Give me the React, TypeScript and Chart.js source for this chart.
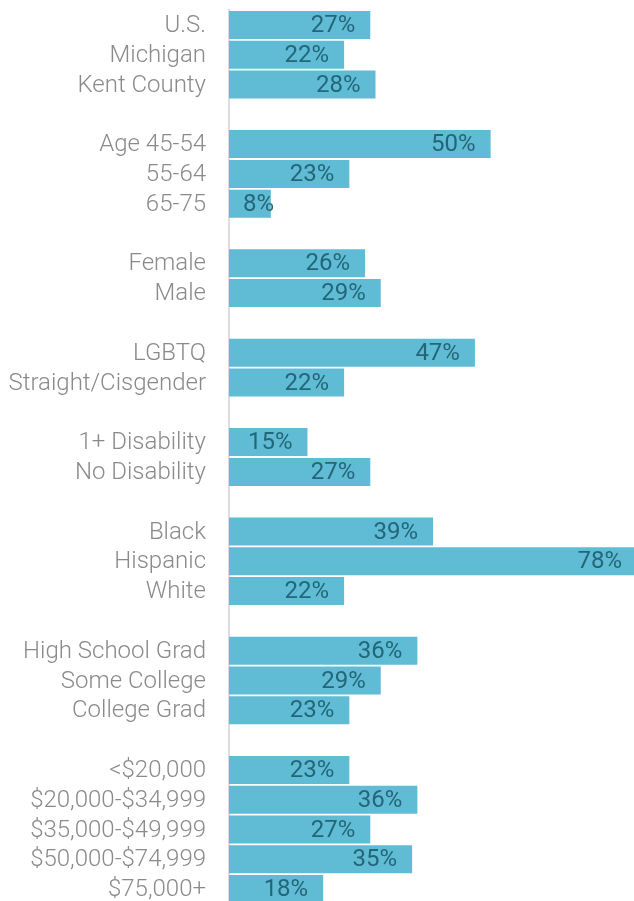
import React, { useEffect, useRef } from "react";
import { Chart, registerables } from "chart.js";

Chart.register(...registerables);

const categories: string[] = [
  "U.S.", "Michigan", "Kent County", "",
  "Age 45-54", "55-64", "65-75", "",
  "Female", "Male", "",
  "LGBTQ", "Straight/Cisgender", "",
  "1+ Disability", "No Disability", "",
  "Black", "Hispanic", "White", "",
  "High School Grad", "Some College", "College Grad", "",
  "<$20,000", "$20,000-$34,999", "$35,000-$49,999", "$50,000-$74,999", "$75,000+",
];

const values: (number | null)[] = [
  27, 22, 28, null,
  50, 23, 8, null,
  26, 29, null,
  47, 22, null,
  15, 27, null,
  39, 78, 22, null,
  36, 29, 23, null,
  23, 36, 27, 35, 18,
];

const BAR_COLOR = "#5fbcd4";
const VALUE_COLOR = "#246679";
const LABEL_COLOR = "#8a8a8a";
const AXIS_COLOR = "#dddddd";

const labelsPlugin = {
  id: "labelsPlugin",
  afterDatasetsDraw(chart: any) {
    const ctx = chart.ctx;
    const meta = chart.getDatasetMeta(0);
    const yScale = chart.scales.y;
    ctx.save();
    ctx.textBaseline = "middle";
    ctx.textAlign = "right";
    ctx.font = "300 24px Roboto";
    ctx.fillStyle = LABEL_COLOR;
    categories.forEach((c, i) => {
      if (!c) return;
      ctx.fillText(c, yScale.right - 23, yScale.getPixelForTick(i) + 1);
    });
    ctx.font = "400 24px Roboto";
    ctx.fillStyle = VALUE_COLOR;
    meta.data.forEach((bar: any, i: number) => {
      const v = values[i];
      if (v === null || v === undefined) return;
      const txt = `${v}%`;
      const w = ctx.measureText(txt).width;
      const x = Math.max(bar.x - 15, bar.base + 14 + w);
      ctx.fillText(txt, x, bar.y + 1);
    });
    ctx.restore();
  },
};

export default function App() {
  const ref = useRef<HTMLCanvasElement | null>(null);
  useEffect(() => {
    if (!ref.current) return;
    const chart = new Chart(ref.current, {
      type: "bar",
      data: {
        labels: categories,
        datasets: [
          {
            data: values,
            backgroundColor: BAR_COLOR,
            borderWidth: 0,
            barPercentage: 0.94,
            categoryPercentage: 1,
          },
        ],
      },
      options: {
        indexAxis: "y",
        animation: false,
        responsive: false,
        maintainAspectRatio: false,
        layout: { padding: { top: 10, left: 0, right: 0, bottom: 0 } },
        plugins: { legend: { display: false }, tooltip: { enabled: false } },
        scales: {
          x: { display: false, min: 0, max: 77.4 },
          y: {
            afterFit: (scale: any) => {
              scale.width = 229;
              scale.paddingTop = 0;
              scale.paddingBottom = 0;
            },
            grid: { display: false, drawTicks: false },
            border: { display: true, color: AXIS_COLOR, width: 2 },
            ticks: { display: false, autoSkip: false },
          },
        },
      },
      plugins: [labelsPlugin],
    });
    return () => chart.destroy();
  }, []);
  return (
    <div style={{ position: "fixed", top: 0, left: 0, width: 634, height: 901, overflow: "hidden", background: "#fff" }}>
      <canvas ref={ref} width={634} height={904} style={{ display: "block", width: 634, height: 904 }} />
    </div>
  );
}
